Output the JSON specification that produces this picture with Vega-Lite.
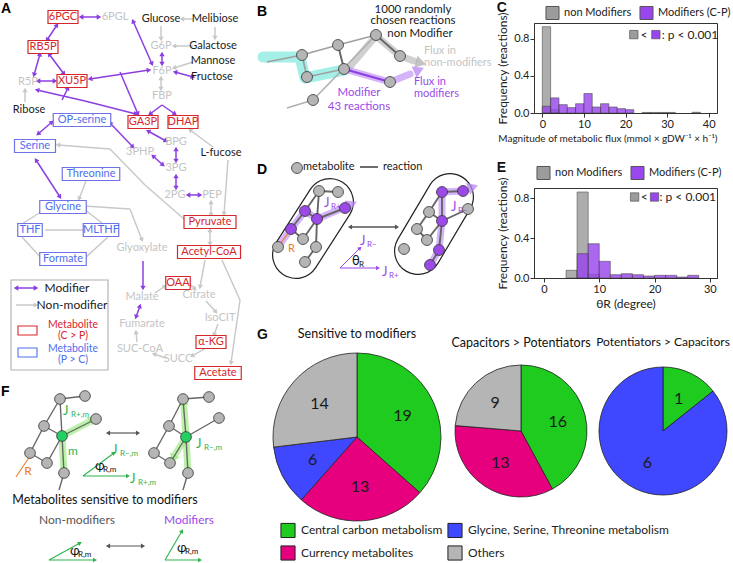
{
"$schema": "https://vega.github.io/schema/vega-lite/v6.json",
"background": "white",
"padding": 0,
"spacing": 0,
"config": {
  "font": "Lato",
  "view": {"stroke": null},
  "axis": {"grid": false, "labelFontSize": 11, "titleFontSize": 12, "titleFontWeight": "normal", "labelColor": "#222", "titleColor": "#222", "domainColor": "#333", "tickColor": "#333", "labelFont": "Lato", "titleFont": "Lato", "tickSize": 4, "labelPadding": 1},
  "legend": {"labelFont": "Lato", "labelColor": "#222"},
  "title": {"font": "Lato", "color": "#111"},
  "text": {"font": "Lato"}
},
"datasets": {
  "L_rects": [
    {"x": 11, "y": 280, "x2": 108, "y2": 370, "kind": "lgray"},
    {"x": 18, "y": 326, "x2": 37, "y2": 335, "kind": "cp"},
    {"x": 18, "y": 348, "x2": 37, "y2": 357, "kind": "pc"}
  ],
  "L_edges": [
    {"x": 81, "y": 17, "x2": 99, "y2": 17, "kind": "mod", "heads": "both"},
    {"x": 133, "y": 21, "x2": 152, "y2": 64, "kind": "mod", "heads": "both"},
    {"x": 57, "y": 25, "x2": 47, "y2": 40, "kind": "mod", "heads": "both"},
    {"x": 40, "y": 54, "x2": 34, "y2": 75, "kind": "mod", "heads": "both"},
    {"x": 49, "y": 54, "x2": 64, "y2": 74, "kind": "mod", "heads": "both"},
    {"x": 38, "y": 81, "x2": 55, "y2": 81, "kind": "mod", "heads": "both"},
    {"x": 90, "y": 79, "x2": 149, "y2": 70, "kind": "mod", "heads": "both"},
    {"x": 120, "y": 72, "x2": 138, "y2": 114, "kind": "mod", "heads": "end"},
    {"x": 37, "y": 90, "x2": 85, "y2": 101, "kind": "mod", "heads": "start"},
    {"x": 85, "y": 101, "x2": 136, "y2": 114, "kind": "mod", "heads": "end"},
    {"x": 68, "y": 88, "x2": 62, "y2": 100, "kind": "mod", "heads": "start"},
    {"x": 162, "y": 105, "x2": 150, "y2": 114, "kind": "mod", "heads": "end"},
    {"x": 162, "y": 105, "x2": 175, "y2": 114, "kind": "mod", "heads": "end"},
    {"x": 162, "y": 54, "x2": 162, "y2": 64, "kind": "mod", "heads": "both"},
    {"x": 175, "y": 72, "x2": 193, "y2": 77, "kind": "mod", "heads": "both"},
    {"x": 52, "y": 122, "x2": 38, "y2": 134, "kind": "mod", "heads": "both"},
    {"x": 110, "y": 123, "x2": 133, "y2": 147, "kind": "mod", "heads": "both"},
    {"x": 148, "y": 131, "x2": 166, "y2": 141, "kind": "mod", "heads": "both"},
    {"x": 153, "y": 156, "x2": 163, "y2": 165, "kind": "mod", "heads": "both"},
    {"x": 176, "y": 149, "x2": 176, "y2": 161, "kind": "mod", "heads": "both"},
    {"x": 176, "y": 176, "x2": 176, "y2": 188, "kind": "mod", "heads": "both"},
    {"x": 188, "y": 195, "x2": 200, "y2": 195, "kind": "mod", "heads": "both"},
    {"x": 36, "y": 160, "x2": 60, "y2": 197, "kind": "mod", "heads": "both"},
    {"x": 143, "y": 261, "x2": 143, "y2": 288, "kind": "mod", "heads": "end"},
    {"x": 140, "y": 306, "x2": 136, "y2": 317, "kind": "mod", "heads": "both"},
    {"x": 16, "y": 288, "x2": 36, "y2": 288, "kind": "mod", "heads": "both"},
    {"x": 193, "y": 19, "x2": 182, "y2": 19, "kind": "non", "heads": "end"},
    {"x": 215, "y": 27, "x2": 215, "y2": 38, "kind": "non", "heads": "end"},
    {"x": 161, "y": 26, "x2": 161, "y2": 39, "kind": "non", "heads": "end"},
    {"x": 193, "y": 46, "x2": 174, "y2": 46, "kind": "non", "heads": "end"},
    {"x": 193, "y": 62, "x2": 174, "y2": 68, "kind": "non", "heads": "end"},
    {"x": 161, "y": 78, "x2": 161, "y2": 89, "kind": "non", "heads": "both"},
    {"x": 25, "y": 102, "x2": 25, "y2": 90, "kind": "non", "heads": "end"},
    {"x": 213, "y": 147, "x2": 190, "y2": 130, "kind": "non", "heads": "end"},
    {"x": 228, "y": 160, "x2": 224, "y2": 214, "kind": "non", "heads": "end"},
    {"x": 211, "y": 202, "x2": 211, "y2": 215, "kind": "non", "heads": "both"},
    {"x": 210, "y": 230, "x2": 210, "y2": 244, "kind": "non", "heads": "both"},
    {"x": 58, "y": 145, "x2": 110, "y2": 149, "kind": "non", "heads": "start"},
    {"x": 110, "y": 149, "x2": 145, "y2": 185, "kind": "non", "heads": "none"},
    {"x": 145, "y": 185, "x2": 184, "y2": 219, "kind": "non", "heads": "none"},
    {"x": 84, "y": 206, "x2": 130, "y2": 209, "kind": "non", "heads": "none"},
    {"x": 130, "y": 209, "x2": 142, "y2": 240, "kind": "non", "heads": "end"},
    {"x": 86, "y": 181, "x2": 79, "y2": 199, "kind": "non", "heads": "end"},
    {"x": 45, "y": 230, "x2": 86, "y2": 230, "kind": "non", "heads": "none"},
    {"x": 44, "y": 210, "x2": 22, "y2": 224, "kind": "non", "heads": "none"},
    {"x": 22, "y": 237, "x2": 42, "y2": 259, "kind": "non", "heads": "none"},
    {"x": 85, "y": 258, "x2": 108, "y2": 237, "kind": "non", "heads": "none"},
    {"x": 102, "y": 223, "x2": 84, "y2": 209, "kind": "non", "heads": "end"},
    {"x": 205, "y": 260, "x2": 200, "y2": 287, "kind": "non", "heads": "end"},
    {"x": 189, "y": 283, "x2": 195, "y2": 289, "kind": "non", "heads": "end"},
    {"x": 206, "y": 301, "x2": 216, "y2": 312, "kind": "non", "heads": "end"},
    {"x": 218, "y": 324, "x2": 214, "y2": 335, "kind": "non", "heads": "end"},
    {"x": 206, "y": 348, "x2": 192, "y2": 356, "kind": "non", "heads": "end"},
    {"x": 166, "y": 358, "x2": 154, "y2": 354, "kind": "non", "heads": "end"},
    {"x": 137, "y": 342, "x2": 136, "y2": 332, "kind": "non", "heads": "end"},
    {"x": 155, "y": 293, "x2": 165, "y2": 286, "kind": "non", "heads": "end"},
    {"x": 222, "y": 260, "x2": 240, "y2": 300, "kind": "non", "heads": "none"},
    {"x": 240, "y": 300, "x2": 231, "y2": 363, "kind": "non", "heads": "end"},
    {"x": 16, "y": 305, "x2": 36, "y2": 305, "kind": "non", "heads": "end"},
    {"x": 60, "y": 399, "x2": 85, "y2": 396, "kind": "net", "heads": "none"},
    {"x": 60, "y": 399, "x2": 44, "y2": 426, "kind": "net", "heads": "none"},
    {"x": 60, "y": 399, "x2": 62, "y2": 436, "kind": "net", "heads": "none"},
    {"x": 44, "y": 426, "x2": 62, "y2": 436, "kind": "net", "heads": "none"},
    {"x": 44, "y": 426, "x2": 30, "y2": 453, "kind": "net", "heads": "none"},
    {"x": 30, "y": 453, "x2": 47, "y2": 463, "kind": "net", "heads": "none"},
    {"x": 47, "y": 463, "x2": 62, "y2": 436, "kind": "net", "heads": "none"},
    {"x": 62, "y": 436, "x2": 96, "y2": 419, "kind": "net", "heads": "none"},
    {"x": 62, "y": 436, "x2": 64, "y2": 473, "kind": "net", "heads": "none"},
    {"x": 64, "y": 473, "x2": 59, "y2": 490, "kind": "net", "heads": "none"},
    {"x": 183, "y": 399, "x2": 209, "y2": 397, "kind": "net", "heads": "none"},
    {"x": 183, "y": 399, "x2": 169, "y2": 426, "kind": "net", "heads": "none"},
    {"x": 183, "y": 399, "x2": 186, "y2": 437, "kind": "net", "heads": "none"},
    {"x": 169, "y": 426, "x2": 186, "y2": 437, "kind": "net", "heads": "none"},
    {"x": 169, "y": 426, "x2": 154, "y2": 453, "kind": "net", "heads": "none"},
    {"x": 154, "y": 453, "x2": 170, "y2": 463, "kind": "net", "heads": "none"},
    {"x": 170, "y": 463, "x2": 186, "y2": 437, "kind": "net", "heads": "none"},
    {"x": 186, "y": 437, "x2": 219, "y2": 418, "kind": "net", "heads": "none"},
    {"x": 186, "y": 437, "x2": 188, "y2": 473, "kind": "net", "heads": "none"},
    {"x": 188, "y": 473, "x2": 183, "y2": 490, "kind": "net", "heads": "none"},
    {"x": 30, "y": 456, "x2": 16, "y2": 477, "kind": "orange", "heads": "none"},
    {"x": 108, "y": 433, "x2": 138, "y2": 433, "kind": "dark", "heads": "both"},
    {"x": 108, "y": 546, "x2": 143, "y2": 546, "kind": "dark", "heads": "both"},
    {"x": 83, "y": 476, "x2": 128, "y2": 476, "kind": "green", "heads": "end"},
    {"x": 83, "y": 476, "x2": 114, "y2": 453, "kind": "green", "heads": "end"},
    {"x": 49, "y": 560, "x2": 95, "y2": 560, "kind": "green", "heads": "end"},
    {"x": 49, "y": 560, "x2": 80, "y2": 543, "kind": "green", "heads": "end"},
    {"x": 165, "y": 560, "x2": 200, "y2": 560, "kind": "green", "heads": "end"},
    {"x": 165, "y": 560, "x2": 182, "y2": 531, "kind": "green", "heads": "end"}
  ],
  "L_bands": [
    {"path": "f1", "seq": 1, "x": 64, "y": 473, "kind": "lgreen"},
    {"path": "f1", "seq": 2, "x": 62, "y": 436, "kind": "lgreen"},
    {"path": "f1", "seq": 3, "x": 87, "y": 423, "kind": "lgreen"},
    {"path": "f2", "seq": 1, "x": 188, "y": 473, "kind": "lgreen"},
    {"path": "f2", "seq": 2, "x": 186, "y": 437, "kind": "lgreen"},
    {"path": "f2", "seq": 3, "x": 184, "y": 408, "kind": "lgreen"},
    {"path": "f3", "seq": 1, "x": 186, "y": 437, "kind": "lgreen"},
    {"path": "f3", "seq": 2, "x": 176, "y": 453, "kind": "lgreen"}
  ],
  "L_bandheads": [
    {"x": 93, "y": 419, "fx": 85, "fy": 424, "kind": "lgreen"},
    {"x": 183, "y": 401, "fx": 184, "fy": 410, "kind": "lgreen"},
    {"x": 173, "y": 459, "fx": 177, "fy": 451, "kind": "lgreen"}
  ],
  "L_nodes": [
    {"x": 60, "y": 399, "kind": "node"}, {"x": 85, "y": 396, "kind": "node"}, {"x": 96, "y": 419, "kind": "node"},
    {"x": 44, "y": 426, "kind": "node"}, {"x": 62, "y": 436, "kind": "focus"}, {"x": 30, "y": 453, "kind": "node"},
    {"x": 47, "y": 463, "kind": "node"}, {"x": 64, "y": 473, "kind": "node"},
    {"x": 183, "y": 399, "kind": "node"}, {"x": 209, "y": 397, "kind": "node"}, {"x": 219, "y": 418, "kind": "node"},
    {"x": 169, "y": 426, "kind": "node"}, {"x": 186, "y": 437, "kind": "focus"}, {"x": 154, "y": 453, "kind": "node"},
    {"x": 170, "y": 463, "kind": "node"}, {"x": 188, "y": 473, "kind": "node"}
  ],
  "L_boxes": [
    {"label": "6PGC", "x": 63, "y": 17, "kind": "cp"},
    {"label": "RB5P", "x": 43, "y": 47, "kind": "cp"},
    {"label": "XU5P", "x": 72, "y": 81, "kind": "cp"},
    {"label": "GA3P", "x": 143, "y": 122, "kind": "cp"},
    {"label": "DHAP", "x": 183, "y": 122, "kind": "cp"},
    {"label": "Pyruvate", "x": 210, "y": 222, "kind": "cp"},
    {"label": "Acetyl-CoA", "x": 209, "y": 252, "kind": "cp"},
    {"label": "OAA", "x": 178, "y": 283, "kind": "cp"},
    {"label": "α-KG", "x": 211, "y": 342, "kind": "cp"},
    {"label": "Acetate", "x": 218, "y": 373, "kind": "cp"},
    {"label": "OP-serine", "x": 82, "y": 120, "kind": "pc"},
    {"label": "Serine", "x": 35, "y": 146, "kind": "pc"},
    {"label": "Threonine", "x": 91, "y": 174, "kind": "pc"},
    {"label": "Glycine", "x": 63, "y": 207, "kind": "pc"},
    {"label": "THF", "x": 30, "y": 230, "kind": "pc"},
    {"label": "MLTHF", "x": 101, "y": 230, "kind": "pc"},
    {"label": "Formate", "x": 63, "y": 259, "kind": "pc"},
    {"label": "6PGL", "x": 115, "y": 17, "kind": "inactive"},
    {"label": "G6P", "x": 161, "y": 46, "kind": "inactive"},
    {"label": "F6P", "x": 162, "y": 71, "kind": "inactive"},
    {"label": "R5P", "x": 28, "y": 82, "kind": "inactive"},
    {"label": "FBP", "x": 162, "y": 96, "kind": "inactive"},
    {"label": "BPG", "x": 176, "y": 142, "kind": "inactive"},
    {"label": "3PHP", "x": 140, "y": 152, "kind": "inactive"},
    {"label": "3PG", "x": 176, "y": 168, "kind": "inactive"},
    {"label": "2PG", "x": 175, "y": 195, "kind": "inactive"},
    {"label": "PEP", "x": 212, "y": 195, "kind": "inactive"},
    {"label": "Glyoxylate", "x": 142, "y": 248, "kind": "inactive"},
    {"label": "Malate", "x": 142, "y": 297, "kind": "inactive"},
    {"label": "Citrate", "x": 199, "y": 295, "kind": "inactive"},
    {"label": "IsoCIT", "x": 220, "y": 318, "kind": "inactive"},
    {"label": "Fumarate", "x": 142, "y": 324, "kind": "inactive"},
    {"label": "SUC-CoA", "x": 140, "y": 349, "kind": "inactive"},
    {"label": "SUCC", "x": 178, "y": 359, "kind": "inactive"},
    {"label": "Glucose", "x": 161, "y": 19, "kind": "ext"},
    {"label": "Melibiose", "x": 215, "y": 19, "kind": "ext"},
    {"label": "Galactose", "x": 213, "y": 46, "kind": "ext"},
    {"label": "Mannose", "x": 213, "y": 61, "kind": "ext"},
    {"label": "Fructose", "x": 212, "y": 77, "kind": "ext"},
    {"label": "Ribose", "x": 29, "y": 110, "kind": "ext"},
    {"label": "L-fucose", "x": 221, "y": 153, "kind": "ext"}
  ],
  "L_texts": [
    {"t": "A", "x": 1, "y": 9, "role": "letter", "kind": "black"},
    {"t": "F", "x": 1, "y": 392, "role": "letter", "kind": "black"},
    {"t": "Metabolites sensitive to modifiers", "x": 105, "y": 500, "role": "head", "kind": "black"},
    {"t": "Non-modifiers", "x": 77, "y": 520, "role": "note", "kind": "dark"},
    {"t": "Modifiers", "x": 189, "y": 520, "role": "note", "kind": "purple"},
    {"t": "Modifier", "x": 67, "y": 288, "role": "note", "kind": "ext"},
    {"t": "Non-modifier", "x": 72, "y": 305, "role": "note", "kind": "ext"},
    {"t": "Metabolite", "x": 73, "y": 325, "role": "small", "kind": "cp"},
    {"t": "(C > P)", "x": 73, "y": 336, "role": "small", "kind": "cp"},
    {"t": "Metabolite", "x": 73, "y": 349, "role": "small", "kind": "pc"},
    {"t": "(P > C)", "x": 73, "y": 360, "role": "small", "kind": "pc"},
    {"t": "m", "x": 73, "y": 451, "role": "note", "kind": "green"},
    {"t": "R", "x": 28, "y": 471, "role": "note", "kind": "orange"},
    {"t": "J", "sub": "R+,m", "x": 63, "y": 411, "role": "sym", "kind": "green"},
    {"t": "J", "sub": "R−,m", "x": 112, "y": 450, "role": "sym", "kind": "green"},
    {"t": "φ", "sub": "R,m", "x": 95, "y": 466, "role": "sym", "kind": "black"},
    {"t": "J", "sub": "R+,m", "x": 130, "y": 479, "role": "sym", "kind": "green"},
    {"t": "J", "sub": "R−,m", "x": 196, "y": 444, "role": "sym", "kind": "green"},
    {"t": "φ", "sub": "R,m", "x": 70, "y": 551, "role": "sym", "kind": "black"},
    {"t": "φ", "sub": "R,m", "x": 177, "y": 548, "role": "sym", "kind": "black"}
  ],
  "M_caps": [
    {"x": 296, "y": 255, "x2": 330, "y2": 202},
    {"x": 418, "y": 251, "x2": 450, "y2": 197}
  ],
  "M_edges": [
    {"x": 302, "y": 55, "x2": 338, "y2": 45, "kind": "bnet", "heads": "none"},
    {"x": 338, "y": 45, "x2": 376, "y2": 35, "kind": "bnet", "heads": "none"},
    {"x": 338, "y": 45, "x2": 344, "y2": 69, "kind": "net", "heads": "none"},
    {"x": 302, "y": 55, "x2": 307, "y2": 77, "kind": "bnet", "heads": "none"},
    {"x": 307, "y": 77, "x2": 344, "y2": 69, "kind": "bnet", "heads": "none"},
    {"x": 376, "y": 35, "x2": 400, "y2": 56, "kind": "net", "heads": "none"},
    {"x": 313, "y": 100, "x2": 376, "y2": 35, "kind": "lgray", "heads": "none"},
    {"x": 287, "y": 108, "x2": 313, "y2": 100, "kind": "lgray", "heads": "none"},
    {"x": 267, "y": 62, "x2": 302, "y2": 55, "kind": "bnet", "heads": "none"},
    {"x": 344, "y": 69, "x2": 390, "y2": 82, "kind": "mod", "heads": "none"},
    {"x": 319, "y": 191, "x2": 338, "y2": 192, "kind": "net", "heads": "none"},
    {"x": 319, "y": 191, "x2": 305, "y2": 211, "kind": "net", "heads": "none"},
    {"x": 305, "y": 211, "x2": 317, "y2": 219, "kind": "net", "heads": "none"},
    {"x": 317, "y": 219, "x2": 345, "y2": 208, "kind": "net", "heads": "none"},
    {"x": 319, "y": 191, "x2": 317, "y2": 219, "kind": "net", "heads": "none"},
    {"x": 305, "y": 211, "x2": 291, "y2": 229, "kind": "net", "heads": "none"},
    {"x": 291, "y": 229, "x2": 303, "y2": 239, "kind": "net", "heads": "none"},
    {"x": 303, "y": 239, "x2": 317, "y2": 219, "kind": "net", "heads": "none"},
    {"x": 317, "y": 219, "x2": 316, "y2": 247, "kind": "net", "heads": "none"},
    {"x": 316, "y": 247, "x2": 305, "y2": 262, "kind": "net", "heads": "none"},
    {"x": 278, "y": 247, "x2": 291, "y2": 229, "kind": "orange", "heads": "none"},
    {"x": 442, "y": 192, "x2": 463, "y2": 191, "kind": "net", "heads": "none"},
    {"x": 442, "y": 192, "x2": 429, "y2": 212, "kind": "net", "heads": "none"},
    {"x": 429, "y": 212, "x2": 442, "y2": 221, "kind": "net", "heads": "none"},
    {"x": 442, "y": 221, "x2": 468, "y2": 209, "kind": "net", "heads": "none"},
    {"x": 429, "y": 212, "x2": 417, "y2": 229, "kind": "net", "heads": "none"},
    {"x": 417, "y": 229, "x2": 427, "y2": 240, "kind": "net", "heads": "none"},
    {"x": 427, "y": 240, "x2": 442, "y2": 221, "kind": "net", "heads": "none"},
    {"x": 442, "y": 221, "x2": 439, "y2": 250, "kind": "net", "heads": "none"},
    {"x": 439, "y": 250, "x2": 430, "y2": 265, "kind": "net", "heads": "none"},
    {"x": 442, "y": 192, "x2": 442, "y2": 221, "kind": "net", "heads": "none"},
    {"x": 360, "y": 167, "x2": 378, "y2": 167, "kind": "net", "heads": "none"},
    {"x": 350, "y": 227, "x2": 397, "y2": 227, "kind": "dark", "heads": "both"},
    {"x": 340, "y": 268, "x2": 378, "y2": 268, "kind": "purple", "heads": "end"},
    {"x": 340, "y": 268, "x2": 360, "y2": 248, "kind": "purple", "heads": "end"}
  ],
  "M_bands": [
    {"path": "c", "seq": 1, "x": 263, "y": 57, "kind": "cyan"},
    {"path": "c", "seq": 2, "x": 300, "y": 57, "kind": "cyan"},
    {"path": "c", "seq": 3, "x": 305, "y": 78, "kind": "cyan"},
    {"path": "c", "seq": 4, "x": 344, "y": 70, "kind": "cyan"},
    {"path": "g", "seq": 1, "x": 347, "y": 70, "kind": "lgray"},
    {"path": "g", "seq": 2, "x": 376, "y": 36, "kind": "lgray"},
    {"path": "g", "seq": 3, "x": 400, "y": 56, "kind": "lgray"},
    {"path": "g", "seq": 4, "x": 414, "y": 61, "kind": "lgray"},
    {"path": "p", "seq": 1, "x": 344, "y": 69, "kind": "lpurple"},
    {"path": "p", "seq": 2, "x": 390, "y": 82, "kind": "lpurple"},
    {"path": "p", "seq": 3, "x": 410, "y": 74, "kind": "lpurple"},
    {"path": "dl", "seq": 1, "x": 278, "y": 247, "kind": "lpurple"},
    {"path": "dl", "seq": 2, "x": 291, "y": 229, "kind": "lpurple"},
    {"path": "dl", "seq": 3, "x": 305, "y": 211, "kind": "lpurple"},
    {"path": "dl", "seq": 4, "x": 317, "y": 219, "kind": "lpurple"},
    {"path": "dl", "seq": 5, "x": 343, "y": 208, "kind": "lpurple"},
    {"path": "dr", "seq": 1, "x": 430, "y": 265, "kind": "lpurple"},
    {"path": "dr", "seq": 2, "x": 439, "y": 250, "kind": "lpurple"},
    {"path": "dr", "seq": 3, "x": 442, "y": 221, "kind": "lpurple"},
    {"path": "dr", "seq": 4, "x": 442, "y": 192, "kind": "lpurple"},
    {"path": "dr", "seq": 5, "x": 463, "y": 191, "kind": "lpurple"}
  ],
  "M_bandheads": [
    {"x": 421, "y": 63, "fx": 410, "fy": 60, "kind": "lgray"},
    {"x": 419, "y": 70, "fx": 408, "fy": 75, "kind": "lpurple"},
    {"x": 352, "y": 204, "fx": 341, "fy": 209, "kind": "lpurple"},
    {"x": 473, "y": 187, "fx": 462, "fy": 191, "kind": "lpurple"}
  ],
  "M_nodes": [
    {"x": 376, "y": 35, "kind": "node"}, {"x": 338, "y": 45, "kind": "node"}, {"x": 302, "y": 55, "kind": "node"},
    {"x": 400, "y": 56, "kind": "node"}, {"x": 307, "y": 77, "kind": "node"}, {"x": 344, "y": 69, "kind": "node"},
    {"x": 390, "y": 82, "kind": "node"}, {"x": 313, "y": 100, "kind": "node"},
    {"x": 297, "y": 168, "kind": "node"},
    {"x": 319, "y": 191, "kind": "node"}, {"x": 338, "y": 192, "kind": "node"}, {"x": 305, "y": 211, "kind": "purple"},
    {"x": 345, "y": 208, "kind": "purple"}, {"x": 317, "y": 219, "kind": "purple"}, {"x": 291, "y": 229, "kind": "purple"},
    {"x": 303, "y": 239, "kind": "node"}, {"x": 278, "y": 247, "kind": "node"}, {"x": 316, "y": 247, "kind": "node"},
    {"x": 305, "y": 262, "kind": "node"},
    {"x": 442, "y": 192, "kind": "purple"}, {"x": 463, "y": 191, "kind": "purple"}, {"x": 429, "y": 212, "kind": "node"},
    {"x": 468, "y": 209, "kind": "node"}, {"x": 442, "y": 221, "kind": "purple"}, {"x": 417, "y": 229, "kind": "node"},
    {"x": 427, "y": 240, "kind": "node"}, {"x": 404, "y": 249, "kind": "node"}, {"x": 439, "y": 250, "kind": "purple"},
    {"x": 430, "y": 265, "kind": "purple"}
  ],
  "M_texts": [
    {"t": "B", "x": 257, "y": 12, "role": "letter", "kind": "black"},
    {"t": "D", "x": 257, "y": 170, "role": "letter", "kind": "black"},
    {"t": "1000 randomly", "x": 413, "y": 10, "role": "note", "kind": "ext"},
    {"t": "chosen reactions", "x": 413, "y": 21, "role": "note", "kind": "ext"},
    {"t": "non Modifier", "x": 420, "y": 34, "role": "note", "kind": "ext"},
    {"t": "Modifier", "x": 359, "y": 93, "role": "note", "kind": "purple"},
    {"t": "43 reactions", "x": 359, "y": 107, "role": "note", "kind": "purple"},
    {"t": "Flux in", "x": 424, "y": 51, "role": "noteL", "kind": "inactive"},
    {"t": "non-modifiers", "x": 424, "y": 63, "role": "noteL", "kind": "inactive"},
    {"t": "Flux in", "x": 414, "y": 82, "role": "noteL", "kind": "purple"},
    {"t": "modifiers", "x": 414, "y": 94, "role": "noteL", "kind": "purple"},
    {"t": "metabolite", "x": 303, "y": 167, "role": "noteL", "kind": "ext"},
    {"t": "reaction", "x": 383, "y": 167, "role": "noteL", "kind": "ext"},
    {"t": "R", "x": 288, "y": 249, "role": "noteL", "kind": "orange"},
    {"t": "J", "sub": "R+", "x": 324, "y": 203, "role": "sym", "kind": "purple"},
    {"t": "J", "sub": "R−", "x": 451, "y": 207, "role": "sym", "kind": "purple"},
    {"t": "J", "sub": "R−", "x": 360, "y": 241, "role": "sym", "kind": "purple"},
    {"t": "J", "sub": "R+", "x": 382, "y": 272, "role": "sym", "kind": "purple"},
    {"t": "θ", "sub": "R", "x": 352, "y": 261, "role": "sym", "kind": "black"}
  ],
  "C_hist": [
    {"group": "non Modifiers", "start": 0, "end": 2, "freq": 0.93},
    {"group": "non Modifiers", "start": 2, "end": 4, "freq": 0.035},
    {"group": "non Modifiers", "start": 24, "end": 26, "freq": 0.006},
    {"group": "non Modifiers", "start": 26, "end": 28, "freq": 0.006},
    {"group": "non Modifiers", "start": 28, "end": 30, "freq": 0.006},
    {"group": "non Modifiers", "start": 30, "end": 32, "freq": 0.006},
    {"group": "non Modifiers", "start": 36, "end": 38, "freq": 0.008},
    {"group": "Modifiers (C-P)", "start": 0, "end": 2, "freq": 0.072},
    {"group": "Modifiers (C-P)", "start": 2, "end": 4, "freq": 0.163},
    {"group": "Modifiers (C-P)", "start": 4, "end": 6, "freq": 0.09},
    {"group": "Modifiers (C-P)", "start": 6, "end": 8, "freq": 0.058},
    {"group": "Modifiers (C-P)", "start": 8, "end": 10, "freq": 0.1},
    {"group": "Modifiers (C-P)", "start": 10, "end": 12, "freq": 0.21},
    {"group": "Modifiers (C-P)", "start": 12, "end": 14, "freq": 0.065},
    {"group": "Modifiers (C-P)", "start": 14, "end": 16, "freq": 0.1},
    {"group": "Modifiers (C-P)", "start": 16, "end": 18, "freq": 0.065},
    {"group": "Modifiers (C-P)", "start": 18, "end": 20, "freq": 0.047},
    {"group": "Modifiers (C-P)", "start": 20, "end": 22, "freq": 0.036}
  ],
  "C_sq": [
    {"x": 22.0, "y": 0.845, "group": "non Modifiers"},
    {"x": 27.3, "y": 0.845, "group": "Modifiers (C-P)"}
  ],
  "C_tx": [
    {"x": 23.6, "y": 0.845, "t": "<"},
    {"x": 28.7, "y": 0.845, "t": ": p < 0.001"}
  ],
  "E_hist": [
    {"group": "non Modifiers", "start": 4, "end": 6, "freq": 0.077},
    {"group": "non Modifiers", "start": 6, "end": 8, "freq": 0.86},
    {"group": "non Modifiers", "start": 8, "end": 10, "freq": 0.037},
    {"group": "Modifiers (C-P)", "start": 6, "end": 8, "freq": 0.243},
    {"group": "Modifiers (C-P)", "start": 8, "end": 10, "freq": 0.343},
    {"group": "Modifiers (C-P)", "start": 10, "end": 12, "freq": 0.167},
    {"group": "Modifiers (C-P)", "start": 12, "end": 14, "freq": 0.033},
    {"group": "Modifiers (C-P)", "start": 14, "end": 16, "freq": 0.043},
    {"group": "Modifiers (C-P)", "start": 16, "end": 18, "freq": 0.033},
    {"group": "Modifiers (C-P)", "start": 18, "end": 20, "freq": 0.02},
    {"group": "Modifiers (C-P)", "start": 20, "end": 22, "freq": 0.027},
    {"group": "Modifiers (C-P)", "start": 22, "end": 24, "freq": 0.027},
    {"group": "Modifiers (C-P)", "start": 24, "end": 26, "freq": 0.01},
    {"group": "Modifiers (C-P)", "start": 26, "end": 28, "freq": 0.027}
  ],
  "E_sq": [
    {"x": 16.4, "y": 0.81, "group": "non Modifiers"},
    {"x": 20.0, "y": 0.81, "group": "Modifiers (C-P)"}
  ],
  "E_tx": [
    {"x": 17.5, "y": 0.81, "t": "<"},
    {"x": 20.9, "y": 0.81, "t": ": p < 0.001"}
  ],
  "G_pies": [
    {"pie": "s", "category": "Central carbon metabolism", "n": 19},
    {"pie": "s", "category": "Currency metabolites", "n": 13},
    {"pie": "s", "category": "Glycine, Serine, Threonine metabolism", "n": 6},
    {"pie": "s", "category": "Others", "n": 14},
    {"pie": "c", "category": "Central carbon metabolism", "n": 16},
    {"pie": "c", "category": "Currency metabolites", "n": 13},
    {"pie": "c", "category": "Others", "n": 9},
    {"pie": "p", "category": "Central carbon metabolism", "n": 1},
    {"pie": "p", "category": "Glycine, Serine, Threonine metabolism", "n": 6}
  ]
},
"resolve": {"scale": {"color": "independent", "stroke": "independent", "strokeWidth": "independent", "size": "independent"}, "legend": {"color": "independent"}},
"hconcat": [
  {
    "width": 257, "height": 540,
    "encoding": {
      "x": {"field": "x", "type": "quantitative", "scale": {"domain": [0, 257], "nice": false, "zero": false}, "axis": null},
      "y": {"field": "y", "type": "quantitative", "scale": {"domain": [23, 563], "nice": false, "zero": false, "reverse": true}, "axis": null}
    },
    "layer": [
      {"data": {"name": "L_rects"}, "mark": {"type": "rect", "filled": false, "strokeWidth": 1.1},
       "encoding": {"x2": {"field": "x2"}, "y2": {"field": "y2"},
         "color": {"field": "kind", "type": "nominal", "legend": null, "scale": {"domain": ["cp","pc","inactive","ext","mod","non","green","orange","dark","node","focus","cyan","lgreen","lpurple","lgray","net","bnet","purple","black"], "range": ["#d7262b","#4f6ef0","#c4c4c4","#1a1a1a","#8b3fe0","#c8c8c8","#2fb34f","#f07a22","#555555","#b5b5b5","#22d064","#7ee9de","#8fe870","#b884f7","#b0b0b0","#666666","#a0a0a0","#9b4ae8","#111111"]}}}},
      {"data": {"name": "L_bands"}, "mark": {"type": "line", "strokeWidth": 7, "opacity": 0.6, "strokeCap": "round", "strokeJoin": "round"},
       "encoding": {"detail": {"field": "path", "type": "nominal"}, "order": {"field": "seq", "type": "quantitative"},
         "color": {"field": "kind", "type": "nominal", "legend": null, "scale": {"domain": ["cp","pc","inactive","ext","mod","non","green","orange","dark","node","focus","cyan","lgreen","lpurple","lgray","net","bnet","purple","black"], "range": ["#d7262b","#4f6ef0","#c4c4c4","#1a1a1a","#8b3fe0","#c8c8c8","#2fb34f","#f07a22","#555555","#b5b5b5","#22d064","#7ee9de","#8fe870","#b884f7","#b0b0b0","#666666","#a0a0a0","#9b4ae8","#111111"]}}}},
      {"data": {"name": "L_bandheads"}, "transform": [{"calculate": "atan2(datum.x - datum.fx, -(datum.y - datum.fy)) * 180 / PI", "as": "ang"}],
       "mark": {"type": "point", "shape": "triangle-up", "filled": true, "size": 110, "opacity": 0.75},
       "encoding": {"angle": {"field": "ang", "type": "quantitative", "scale": null},
         "color": {"field": "kind", "type": "nominal", "legend": null, "scale": {"domain": ["cp","pc","inactive","ext","mod","non","green","orange","dark","node","focus","cyan","lgreen","lpurple","lgray","net","bnet","purple","black"], "range": ["#d7262b","#4f6ef0","#c4c4c4","#1a1a1a","#8b3fe0","#c8c8c8","#2fb34f","#f07a22","#555555","#b5b5b5","#22d064","#7ee9de","#8fe870","#b884f7","#b0b0b0","#666666","#a0a0a0","#9b4ae8","#111111"]}}}},
      {"data": {"name": "L_edges"}, "mark": {"type": "rule"},
       "encoding": {"x2": {"field": "x2"}, "y2": {"field": "y2"},
         "strokeWidth": {"field": "kind", "type": "ordinal", "legend": null, "scale": {"domain": ["mod","non","net","bnet","lgray","dark","green","orange","purple"], "range": [1.5, 1, 0.9, 1.2, 1, 2, 1.1, 4, 1.3]}},
         "color": {"field": "kind", "type": "nominal", "legend": null, "scale": {"domain": ["cp","pc","inactive","ext","mod","non","green","orange","dark","node","focus","cyan","lgreen","lpurple","lgray","net","bnet","purple","black"], "range": ["#d7262b","#4f6ef0","#c4c4c4","#1a1a1a","#8b3fe0","#c8c8c8","#2fb34f","#f07a22","#555555","#b5b5b5","#22d064","#7ee9de","#8fe870","#b884f7","#b0b0b0","#666666","#a0a0a0","#9b4ae8","#111111"]}}}},
      {"data": {"name": "L_edges"}, "transform": [{"filter": "datum.heads == 'end' || datum.heads == 'both'"}, {"calculate": "atan2(datum.x2 - datum.x, -(datum.y2 - datum.y)) * 180 / PI", "as": "ang"}],
       "mark": {"type": "point", "shape": "triangle-up", "filled": true, "opacity": 1},
       "encoding": {"x": {"field": "x2", "type": "quantitative", "axis": null}, "y": {"field": "y2", "type": "quantitative", "axis": null},
         "angle": {"field": "ang", "type": "quantitative", "scale": null},
         "size": {"field": "kind", "type": "ordinal", "legend": null, "scale": {"domain": ["mod","non","net","bnet","lgray","dark","green","orange","purple"], "range": [28, 20, 10, 10, 20, 45, 22, 10, 24]}},
         "color": {"field": "kind", "type": "nominal", "legend": null, "scale": {"domain": ["cp","pc","inactive","ext","mod","non","green","orange","dark","node","focus","cyan","lgreen","lpurple","lgray","net","bnet","purple","black"], "range": ["#d7262b","#4f6ef0","#c4c4c4","#1a1a1a","#8b3fe0","#c8c8c8","#2fb34f","#f07a22","#555555","#b5b5b5","#22d064","#7ee9de","#8fe870","#b884f7","#b0b0b0","#666666","#a0a0a0","#9b4ae8","#111111"]}}}},
      {"data": {"name": "L_edges"}, "transform": [{"filter": "datum.heads == 'start' || datum.heads == 'both'"}, {"calculate": "atan2(datum.x - datum.x2, -(datum.y - datum.y2)) * 180 / PI", "as": "ang"}],
       "mark": {"type": "point", "shape": "triangle-up", "filled": true, "opacity": 1},
       "encoding": {"angle": {"field": "ang", "type": "quantitative", "scale": null},
         "size": {"field": "kind", "type": "ordinal", "legend": null, "scale": {"domain": ["mod","non","net","bnet","lgray","dark","green","orange","purple"], "range": [28, 20, 10, 10, 20, 45, 22, 10, 24]}},
         "color": {"field": "kind", "type": "nominal", "legend": null, "scale": {"domain": ["cp","pc","inactive","ext","mod","non","green","orange","dark","node","focus","cyan","lgreen","lpurple","lgray","net","bnet","purple","black"], "range": ["#d7262b","#4f6ef0","#c4c4c4","#1a1a1a","#8b3fe0","#c8c8c8","#2fb34f","#f07a22","#555555","#b5b5b5","#22d064","#7ee9de","#8fe870","#b884f7","#b0b0b0","#666666","#a0a0a0","#9b4ae8","#111111"]}}}},
      {"data": {"name": "L_nodes"}, "mark": {"type": "point", "shape": "circle", "filled": true, "size": 115, "stroke": "#333", "strokeWidth": 0.8, "opacity": 1},
       "encoding": {"color": {"field": "kind", "type": "nominal", "legend": null, "scale": {"domain": ["cp","pc","inactive","ext","mod","non","green","orange","dark","node","focus","cyan","lgreen","lpurple","lgray","net","bnet","purple","black"], "range": ["#d7262b","#4f6ef0","#c4c4c4","#1a1a1a","#8b3fe0","#c8c8c8","#2fb34f","#f07a22","#555555","#b5b5b5","#22d064","#7ee9de","#8fe870","#b884f7","#b0b0b0","#666666","#a0a0a0","#9b4ae8","#111111"]}}}},
      {"data": {"name": "L_boxes"}, "transform": [{"filter": "datum.kind == 'cp' || datum.kind == 'pc'"},
         {"calculate": "datum.x - (length(datum.label) * 2.75 + 4)", "as": "bx1"}, {"calculate": "datum.x + (length(datum.label) * 2.75 + 4)", "as": "bx2"},
         {"calculate": "datum.y - 6.5", "as": "by1"}, {"calculate": "datum.y + 6.5", "as": "by2"}],
       "mark": {"type": "rect", "fill": "white", "strokeWidth": 1.2},
       "encoding": {"x": {"field": "bx1", "type": "quantitative", "axis": null}, "x2": {"field": "bx2"}, "y": {"field": "by1", "type": "quantitative", "axis": null}, "y2": {"field": "by2"},
         "stroke": {"field": "kind", "type": "nominal", "legend": null, "scale": {"domain": ["cp","pc"], "range": ["#d7262b","#6f72e8"]}}}},
      {"data": {"name": "L_boxes"}, "mark": {"type": "text", "fontSize": 11, "baseline": "middle", "align": "center"},
       "encoding": {"text": {"field": "label"},
         "color": {"field": "kind", "type": "nominal", "legend": null, "scale": {"domain": ["cp","pc","inactive","ext","mod","non","green","orange","dark","node","focus","cyan","lgreen","lpurple","lgray","net","bnet","purple","black"], "range": ["#d7262b","#4f6ef0","#c4c4c4","#1a1a1a","#8b3fe0","#c8c8c8","#2fb34f","#f07a22","#555555","#b5b5b5","#22d064","#7ee9de","#8fe870","#b884f7","#b0b0b0","#666666","#a0a0a0","#9b4ae8","#111111"]}}}},
      {"data": {"name": "L_texts"}, "transform": [{"filter": "datum.role == 'letter'"}],
       "mark": {"type": "text", "fontSize": 14, "fontWeight": "bold", "font": "Liberation Sans", "align": "left", "baseline": "middle", "color": "#000"},
       "encoding": {"text": {"field": "t"}}},
      {"data": {"name": "L_texts"}, "transform": [{"filter": "datum.role == 'head'"}],
       "mark": {"type": "text", "fontSize": 12.5, "align": "center", "baseline": "middle", "color": "#111"},
       "encoding": {"text": {"field": "t"}}},
      {"data": {"name": "L_texts"}, "transform": [{"filter": "datum.role == 'note'"}],
       "mark": {"type": "text", "fontSize": 12, "align": "center", "baseline": "middle"},
       "encoding": {"text": {"field": "t"},
         "color": {"field": "kind", "type": "nominal", "legend": null, "scale": {"domain": ["cp","pc","inactive","ext","mod","non","green","orange","dark","node","focus","cyan","lgreen","lpurple","lgray","net","bnet","purple","black"], "range": ["#d7262b","#4f6ef0","#c4c4c4","#1a1a1a","#8b3fe0","#c8c8c8","#2fb34f","#f07a22","#555555","#b5b5b5","#22d064","#7ee9de","#8fe870","#b884f7","#b0b0b0","#666666","#a0a0a0","#9b4ae8","#111111"]}}}},
      {"data": {"name": "L_texts"}, "transform": [{"filter": "datum.role == 'small'"}],
       "mark": {"type": "text", "fontSize": 10.5, "align": "center", "baseline": "middle"},
       "encoding": {"text": {"field": "t"},
         "color": {"field": "kind", "type": "nominal", "legend": null, "scale": {"domain": ["cp","pc","inactive","ext","mod","non","green","orange","dark","node","focus","cyan","lgreen","lpurple","lgray","net","bnet","purple","black"], "range": ["#d7262b","#4f6ef0","#c4c4c4","#1a1a1a","#8b3fe0","#c8c8c8","#2fb34f","#f07a22","#555555","#b5b5b5","#22d064","#7ee9de","#8fe870","#b884f7","#b0b0b0","#666666","#a0a0a0","#9b4ae8","#111111"]}}}},
      {"data": {"name": "L_texts"}, "transform": [{"filter": "datum.role == 'sym'"}],
       "mark": {"type": "text", "fontSize": 13, "align": "left", "baseline": "middle"},
       "encoding": {"text": {"field": "t"},
         "color": {"field": "kind", "type": "nominal", "legend": null, "scale": {"domain": ["cp","pc","inactive","ext","mod","non","green","orange","dark","node","focus","cyan","lgreen","lpurple","lgray","net","bnet","purple","black"], "range": ["#d7262b","#4f6ef0","#c4c4c4","#1a1a1a","#8b3fe0","#c8c8c8","#2fb34f","#f07a22","#555555","#b5b5b5","#22d064","#7ee9de","#8fe870","#b884f7","#b0b0b0","#666666","#a0a0a0","#9b4ae8","#111111"]}}}},
      {"data": {"name": "L_texts"}, "transform": [{"filter": "datum.role == 'sym'"}],
       "mark": {"type": "text", "fontSize": 8, "align": "left", "baseline": "middle", "dx": 8, "dy": 4},
       "encoding": {"text": {"field": "sub"},
         "color": {"field": "kind", "type": "nominal", "legend": null, "scale": {"domain": ["cp","pc","inactive","ext","mod","non","green","orange","dark","node","focus","cyan","lgreen","lpurple","lgray","net","bnet","purple","black"], "range": ["#d7262b","#4f6ef0","#c4c4c4","#1a1a1a","#8b3fe0","#c8c8c8","#2fb34f","#f07a22","#555555","#b5b5b5","#22d064","#7ee9de","#8fe870","#b884f7","#b0b0b0","#666666","#a0a0a0","#9b4ae8","#111111"]}}}}
    ]
  },
  {
    "spacing": 17,
    "resolve": {"scale": {"color": "independent", "stroke": "independent", "strokeWidth": "independent", "size": "independent"}, "legend": {"color": "independent"}},
    "vconcat": [
      {
        "spacing": 0,
        "resolve": {"scale": {"color": "independent", "stroke": "independent", "strokeWidth": "independent", "size": "independent"}, "legend": {"color": "independent"}},
        "hconcat": [
          {
            "width": 223, "height": 262,
            "encoding": {
              "x": {"field": "x", "type": "quantitative", "scale": {"domain": [273, 496], "nice": false, "zero": false}, "axis": null},
              "y": {"field": "y", "type": "quantitative", "scale": {"domain": [23, 285], "nice": false, "zero": false, "reverse": true}, "axis": null}
            },
            "layer": [
              {"data": {"name": "M_caps"}, "mark": {"type": "rule", "strokeWidth": 48, "strokeCap": "round", "color": "#222"},
               "encoding": {"x2": {"field": "x2"}, "y2": {"field": "y2"}}},
              {"data": {"name": "M_caps"}, "mark": {"type": "rule", "strokeWidth": 45.6, "strokeCap": "round", "color": "white"},
               "encoding": {"x2": {"field": "x2"}, "y2": {"field": "y2"}}},
              {"data": {"name": "M_bands"}, "transform": [{"filter": "datum.kind == 'cyan'"}],
               "mark": {"type": "line", "opacity": 0.7, "strokeWidth": 11, "strokeCap": "round", "strokeJoin": "round"},
               "encoding": {"detail": {"field": "path", "type": "nominal"}, "order": {"field": "seq", "type": "quantitative"},
                 "color": {"field": "kind", "type": "nominal", "legend": null, "scale": {"domain": ["cp","pc","inactive","ext","mod","non","green","orange","dark","node","focus","cyan","lgreen","lpurple","lgray","net","bnet","purple","black"], "range": ["#d7262b","#4f6ef0","#c4c4c4","#1a1a1a","#8b3fe0","#c8c8c8","#2fb34f","#f07a22","#555555","#b5b5b5","#22d064","#7ee9de","#8fe870","#b884f7","#b0b0b0","#666666","#a0a0a0","#9b4ae8","#111111"]}}}},
              {"data": {"name": "M_bands"}, "transform": [{"filter": "datum.kind != 'cyan'"}],
               "mark": {"type": "line", "opacity": 0.6, "strokeWidth": 7, "strokeCap": "round", "strokeJoin": "round"},
               "encoding": {"detail": {"field": "path", "type": "nominal"}, "order": {"field": "seq", "type": "quantitative"},
                 "color": {"field": "kind", "type": "nominal", "legend": null, "scale": {"domain": ["cp","pc","inactive","ext","mod","non","green","orange","dark","node","focus","cyan","lgreen","lpurple","lgray","net","bnet","purple","black"], "range": ["#d7262b","#4f6ef0","#c4c4c4","#1a1a1a","#8b3fe0","#c8c8c8","#2fb34f","#f07a22","#555555","#b5b5b5","#22d064","#7ee9de","#8fe870","#b884f7","#b0b0b0","#666666","#a0a0a0","#9b4ae8","#111111"]}}}},
              {"data": {"name": "M_bandheads"}, "transform": [{"calculate": "atan2(datum.x - datum.fx, -(datum.y - datum.fy)) * 180 / PI", "as": "ang"}],
               "mark": {"type": "point", "shape": "triangle-up", "filled": true, "size": 150, "opacity": 0.75},
               "encoding": {"angle": {"field": "ang", "type": "quantitative", "scale": null},
                 "color": {"field": "kind", "type": "nominal", "legend": null, "scale": {"domain": ["cp","pc","inactive","ext","mod","non","green","orange","dark","node","focus","cyan","lgreen","lpurple","lgray","net","bnet","purple","black"], "range": ["#d7262b","#4f6ef0","#c4c4c4","#1a1a1a","#8b3fe0","#c8c8c8","#2fb34f","#f07a22","#555555","#b5b5b5","#22d064","#7ee9de","#8fe870","#b884f7","#b0b0b0","#666666","#a0a0a0","#9b4ae8","#111111"]}}}},
              {"data": {"name": "M_edges"}, "mark": {"type": "rule"},
               "encoding": {"x2": {"field": "x2"}, "y2": {"field": "y2"},
                 "strokeWidth": {"field": "kind", "type": "ordinal", "legend": null, "scale": {"domain": ["mod","non","net","bnet","lgray","dark","green","orange","purple"], "range": [2.2, 1, 0.9, 1.2, 1, 2, 1.1, 3, 1.3]}},
                 "color": {"field": "kind", "type": "nominal", "legend": null, "scale": {"domain": ["cp","pc","inactive","ext","mod","non","green","orange","dark","node","focus","cyan","lgreen","lpurple","lgray","net","bnet","purple","black"], "range": ["#d7262b","#4f6ef0","#c4c4c4","#1a1a1a","#8b3fe0","#c8c8c8","#2fb34f","#f07a22","#555555","#b5b5b5","#22d064","#7ee9de","#8fe870","#b884f7","#b0b0b0","#666666","#a0a0a0","#9b4ae8","#111111"]}}}},
              {"data": {"name": "M_edges"}, "transform": [{"filter": "datum.heads == 'end' || datum.heads == 'both'"}, {"calculate": "atan2(datum.x2 - datum.x, -(datum.y2 - datum.y)) * 180 / PI", "as": "ang"}],
               "mark": {"type": "point", "shape": "triangle-up", "filled": true, "opacity": 1},
               "encoding": {"x": {"field": "x2", "type": "quantitative", "axis": null}, "y": {"field": "y2", "type": "quantitative", "axis": null},
                 "angle": {"field": "ang", "type": "quantitative", "scale": null},
                 "size": {"field": "kind", "type": "ordinal", "legend": null, "scale": {"domain": ["mod","non","net","bnet","lgray","dark","green","orange","purple"], "range": [28, 20, 10, 10, 20, 45, 22, 10, 26]}},
                 "color": {"field": "kind", "type": "nominal", "legend": null, "scale": {"domain": ["cp","pc","inactive","ext","mod","non","green","orange","dark","node","focus","cyan","lgreen","lpurple","lgray","net","bnet","purple","black"], "range": ["#d7262b","#4f6ef0","#c4c4c4","#1a1a1a","#8b3fe0","#c8c8c8","#2fb34f","#f07a22","#555555","#b5b5b5","#22d064","#7ee9de","#8fe870","#b884f7","#b0b0b0","#666666","#a0a0a0","#9b4ae8","#111111"]}}}},
              {"data": {"name": "M_edges"}, "transform": [{"filter": "datum.heads == 'start' || datum.heads == 'both'"}, {"calculate": "atan2(datum.x - datum.x2, -(datum.y - datum.y2)) * 180 / PI", "as": "ang"}],
               "mark": {"type": "point", "shape": "triangle-up", "filled": true, "opacity": 1},
               "encoding": {"angle": {"field": "ang", "type": "quantitative", "scale": null},
                 "size": {"field": "kind", "type": "ordinal", "legend": null, "scale": {"domain": ["mod","non","net","bnet","lgray","dark","green","orange","purple"], "range": [28, 20, 10, 10, 20, 45, 22, 10, 26]}},
                 "color": {"field": "kind", "type": "nominal", "legend": null, "scale": {"domain": ["cp","pc","inactive","ext","mod","non","green","orange","dark","node","focus","cyan","lgreen","lpurple","lgray","net","bnet","purple","black"], "range": ["#d7262b","#4f6ef0","#c4c4c4","#1a1a1a","#8b3fe0","#c8c8c8","#2fb34f","#f07a22","#555555","#b5b5b5","#22d064","#7ee9de","#8fe870","#b884f7","#b0b0b0","#666666","#a0a0a0","#9b4ae8","#111111"]}}}},
              {"data": {"name": "M_nodes"}, "mark": {"type": "point", "shape": "circle", "filled": true, "size": 120, "stroke": "#333", "strokeWidth": 0.8, "opacity": 1},
               "encoding": {"color": {"field": "kind", "type": "nominal", "legend": null, "scale": {"domain": ["cp","pc","inactive","ext","mod","non","green","orange","dark","node","focus","cyan","lgreen","lpurple","lgray","net","bnet","purple","black"], "range": ["#d7262b","#4f6ef0","#c4c4c4","#1a1a1a","#8b3fe0","#c8c8c8","#2fb34f","#f07a22","#555555","#b5b5b5","#22d064","#7ee9de","#8fe870","#b884f7","#b0b0b0","#666666","#a0a0a0","#9b4ae8","#111111"]}}}},
              {"data": {"name": "M_texts"}, "transform": [{"filter": "datum.role == 'letter'"}],
               "mark": {"type": "text", "fontSize": 14, "fontWeight": "bold", "font": "Liberation Sans", "align": "left", "baseline": "middle", "color": "#000"},
               "encoding": {"text": {"field": "t"}}},
              {"data": {"name": "M_texts"}, "transform": [{"filter": "datum.role == 'note'"}],
               "mark": {"type": "text", "fontSize": 11.5, "align": "center", "baseline": "middle"},
               "encoding": {"text": {"field": "t"},
                 "color": {"field": "kind", "type": "nominal", "legend": null, "scale": {"domain": ["cp","pc","inactive","ext","mod","non","green","orange","dark","node","focus","cyan","lgreen","lpurple","lgray","net","bnet","purple","black"], "range": ["#d7262b","#4f6ef0","#c4c4c4","#1a1a1a","#8b3fe0","#c8c8c8","#2fb34f","#f07a22","#555555","#b5b5b5","#22d064","#7ee9de","#8fe870","#b884f7","#b0b0b0","#666666","#a0a0a0","#9b4ae8","#111111"]}}}},
              {"data": {"name": "M_texts"}, "transform": [{"filter": "datum.role == 'noteL'"}],
               "mark": {"type": "text", "fontSize": 11, "align": "left", "baseline": "middle"},
               "encoding": {"text": {"field": "t"},
                 "color": {"field": "kind", "type": "nominal", "legend": null, "scale": {"domain": ["cp","pc","inactive","ext","mod","non","green","orange","dark","node","focus","cyan","lgreen","lpurple","lgray","net","bnet","purple","black"], "range": ["#d7262b","#4f6ef0","#c4c4c4","#1a1a1a","#8b3fe0","#c8c8c8","#2fb34f","#f07a22","#555555","#b5b5b5","#22d064","#7ee9de","#8fe870","#b884f7","#b0b0b0","#666666","#a0a0a0","#9b4ae8","#111111"]}}}},
              {"data": {"name": "M_texts"}, "transform": [{"filter": "datum.role == 'sym'"}],
               "mark": {"type": "text", "fontSize": 13, "align": "left", "baseline": "middle"},
               "encoding": {"text": {"field": "t"},
                 "color": {"field": "kind", "type": "nominal", "legend": null, "scale": {"domain": ["cp","pc","inactive","ext","mod","non","green","orange","dark","node","focus","cyan","lgreen","lpurple","lgray","net","bnet","purple","black"], "range": ["#d7262b","#4f6ef0","#c4c4c4","#1a1a1a","#8b3fe0","#c8c8c8","#2fb34f","#f07a22","#555555","#b5b5b5","#22d064","#7ee9de","#8fe870","#b884f7","#b0b0b0","#666666","#a0a0a0","#9b4ae8","#111111"]}}}},
              {"data": {"name": "M_texts"}, "transform": [{"filter": "datum.role == 'sym'"}],
               "mark": {"type": "text", "fontSize": 8, "align": "left", "baseline": "middle", "dx": 7, "dy": 4},
               "encoding": {"text": {"field": "sub"},
                 "color": {"field": "kind", "type": "nominal", "legend": null, "scale": {"domain": ["cp","pc","inactive","ext","mod","non","green","orange","dark","node","focus","cyan","lgreen","lpurple","lgray","net","bnet","purple","black"], "range": ["#d7262b","#4f6ef0","#c4c4c4","#1a1a1a","#8b3fe0","#c8c8c8","#2fb34f","#f07a22","#555555","#b5b5b5","#22d064","#7ee9de","#8fe870","#b884f7","#b0b0b0","#666666","#a0a0a0","#9b4ae8","#111111"]}}}}
            ]
          },
          {
            "spacing": 16,
            "resolve": {"scale": {"color": "independent"}, "legend": {"color": "independent"}},
            "vconcat": [
              {
                "width": 183, "height": 90,
                "view": {"stroke": "#333", "strokeWidth": 1},
                "title": {"text": "C", "anchor": "start", "frame": "bounds", "fontSize": 14, "fontWeight": "bold", "font": "Liberation Sans", "offset": 0, "dy": 10},
                "layer": [
                  {"data": {"name": "C_hist"}, "mark": {"type": "rect", "stroke": "#2a2a2a", "strokeWidth": 0.6, "opacity": 0.82},
                   "encoding": {
                     "x": {"field": "start", "type": "quantitative", "scale": {"domain": [-2, 42], "nice": false, "zero": false}, "axis": {"values": [0, 10, 20, 30, 40], "title": "Magnitude of metabolic flux (mmol × gDW⁻¹ × h⁻¹)", "titleFontSize": 10, "titleAnchor": "end"}},
                     "x2": {"field": "end"},
                     "y": {"field": "freq", "type": "quantitative", "scale": {"domain": [0, 0.97], "nice": false}, "axis": {"values": [0, 0.2, 0.4, 0.6, 0.8], "format": ".1f", "title": "Frequency (reactions)"}},
                     "y2": {"datum": 0},
                     "color": {"field": "group", "type": "nominal", "scale": {"domain": ["non Modifiers", "Modifiers (C-P)"], "range": ["#9c9c9c", "#9a46ee"]},
                       "legend": {"orient": "none", "legendX": 11, "legendY": -18, "direction": "horizontal", "title": null, "symbolType": "square", "symbolSize": 170, "symbolStrokeColor": "#222", "symbolStrokeWidth": 1, "symbolOpacity": 1, "labelFontSize": 11, "columnPadding": 5, "labelOffset": 4}}
                   }},
                  {"data": {"name": "C_sq"}, "mark": {"type": "point", "shape": "square", "filled": true, "size": 70, "stroke": "#555", "strokeWidth": 0.7, "opacity": 1},
                   "encoding": {"x": {"field": "x", "type": "quantitative"}, "y": {"field": "y", "type": "quantitative"}, "color": {"field": "group", "type": "nominal"}}},
                  {"data": {"name": "C_tx"}, "mark": {"type": "text", "align": "left", "baseline": "middle", "fontSize": 12, "color": "#222"},
                   "encoding": {"x": {"field": "x", "type": "quantitative"}, "y": {"field": "y", "type": "quantitative"}, "text": {"field": "t"}}}
                ]
              },
              {
                "width": 183, "height": 90,
                "view": {"stroke": "#333", "strokeWidth": 1},
                "title": {"text": "E", "anchor": "start", "frame": "bounds", "fontSize": 14, "fontWeight": "bold", "font": "Liberation Sans", "offset": 0, "dy": 10},
                "layer": [
                  {"data": {"name": "E_hist"}, "mark": {"type": "rect", "stroke": "#2a2a2a", "strokeWidth": 0.6, "opacity": 0.82},
                   "encoding": {
                     "x": {"field": "start", "type": "quantitative", "scale": {"domain": [-1.8, 31.3], "nice": false, "zero": false}, "axis": {"values": [0, 10, 20, 30], "title": "θR (degree)"}},
                     "x2": {"field": "end"},
                     "y": {"field": "freq", "type": "quantitative", "scale": {"domain": [0, 0.9], "nice": false}, "axis": {"values": [0, 0.2, 0.4, 0.6, 0.8], "format": ".1f", "title": "Frequency (reactions)"}},
                     "y2": {"datum": 0},
                     "color": {"field": "group", "type": "nominal", "scale": {"domain": ["non Modifiers", "Modifiers (C-P)"], "range": ["#9c9c9c", "#9a46ee"]},
                       "legend": {"orient": "none", "legendX": 2, "legendY": -23, "direction": "horizontal", "title": null, "symbolType": "square", "symbolSize": 170, "symbolStrokeColor": "#222", "symbolStrokeWidth": 1, "symbolOpacity": 1, "labelFontSize": 11, "columnPadding": 5, "labelOffset": 4}}
                   }},
                  {"data": {"name": "E_sq"}, "mark": {"type": "point", "shape": "square", "filled": true, "size": 70, "stroke": "#555", "strokeWidth": 0.7, "opacity": 1},
                   "encoding": {"x": {"field": "x", "type": "quantitative"}, "y": {"field": "y", "type": "quantitative"}, "color": {"field": "group", "type": "nominal"}}},
                  {"data": {"name": "E_tx"}, "mark": {"type": "text", "align": "left", "baseline": "middle", "fontSize": 12, "color": "#222"},
                   "encoding": {"x": {"field": "x", "type": "quantitative"}, "y": {"field": "y", "type": "quantitative"}, "text": {"field": "t"}}}
                ]
              }
            ]
          }
        ]
      },
      {
        "spacing": 0,
        "bounds": "flush",
        "resolve": {"scale": {"color": "independent"}, "legend": {"color": "independent"}},
        "title": {"text": "G", "anchor": "start", "frame": "group", "fontSize": 14, "fontWeight": "bold", "font": "Liberation Sans", "offset": 0, "dx": -16, "dy": 14},
        "hconcat": [
          {
            "width": 168, "height": 168,
            "title": {"text": "Sensitive to modifiers", "fontSize": 12.5, "fontWeight": "normal", "offset": 11},
            "data": {"name": "G_pies"},
            "transform": [{"filter": "datum.pie == 's'"}],
            "encoding": {"theta": {"field": "n", "type": "quantitative", "stack": true}, "order": {"field": "category", "type": "ordinal", "sort": "ascending"}},
            "layer": [
              {"mark": {"type": "arc", "outerRadius": 84, "stroke": "#222", "strokeWidth": 0.8},
               "encoding": {"color": {"field": "category", "type": "nominal", "scale": {"domain": ["Central carbon metabolism", "Currency metabolites", "Glycine, Serine, Threonine metabolism", "Others"], "range": ["#1ecb1e", "#e6007e", "#4048ff", "#b5b5b5"]},
                 "legend": {"orient": "none", "legendX": 7, "legendY": 169, "columns": 2, "title": null, "symbolType": "square", "symbolSize": 200, "symbolStrokeColor": "#222", "symbolStrokeWidth": 1, "symbolOpacity": 1, "labelFontSize": 12, "labelLimit": 300, "rowPadding": 3, "columnPadding": 2, "labelOffset": 5}}}},
              {"mark": {"type": "text", "radius": 50, "fontSize": 16, "color": "#1a1a1a"},
               "encoding": {"text": {"field": "n", "type": "quantitative"}}}
            ]
          },
          {
            "width": 160, "height": 156,
            "title": {"text": "Capacitors > Potentiators", "fontSize": 12.5, "fontWeight": "normal", "offset": 0, "dy": -4},
            "data": {"name": "G_pies"},
            "transform": [{"filter": "datum.pie == 'c'"}],
            "encoding": {"theta": {"field": "n", "type": "quantitative", "stack": true}, "order": {"field": "category", "type": "ordinal", "sort": "ascending"}},
            "layer": [
              {"mark": {"type": "arc", "outerRadius": 66, "stroke": "#222", "strokeWidth": 0.8},
               "encoding": {"color": {"field": "category", "type": "nominal", "scale": {"domain": ["Central carbon metabolism", "Currency metabolites", "Glycine, Serine, Threonine metabolism", "Others"], "range": ["#1ecb1e", "#e6007e", "#4048ff", "#b5b5b5"]}, "legend": null}}},
              {"mark": {"type": "text", "radius": 38, "fontSize": 16, "color": "#1a1a1a"},
               "encoding": {"text": {"field": "n", "type": "quantitative"}}}
            ]
          },
          {
            "width": 124, "height": 156,
            "title": {"text": "Potentiators > Capacitors", "fontSize": 12, "fontWeight": "normal", "offset": 0, "dy": -4},
            "data": {"name": "G_pies"},
            "transform": [{"filter": "datum.pie == 'p'"}],
            "encoding": {"theta": {"field": "n", "type": "quantitative", "stack": true}, "order": {"field": "category", "type": "ordinal", "sort": "ascending"}},
            "layer": [
              {"mark": {"type": "arc", "outerRadius": 64, "stroke": "#222", "strokeWidth": 0.8},
               "encoding": {"color": {"field": "category", "type": "nominal", "scale": {"domain": ["Central carbon metabolism", "Currency metabolites", "Glycine, Serine, Threonine metabolism", "Others"], "range": ["#1ecb1e", "#e6007e", "#4048ff", "#b5b5b5"]}, "legend": null}}},
              {"mark": {"type": "text", "radius": 36, "fontSize": 16, "color": "#1a1a1a"},
               "encoding": {"text": {"field": "n", "type": "quantitative"}}}
            ]
          }
        ]
      }
    ]
  }
]
}
